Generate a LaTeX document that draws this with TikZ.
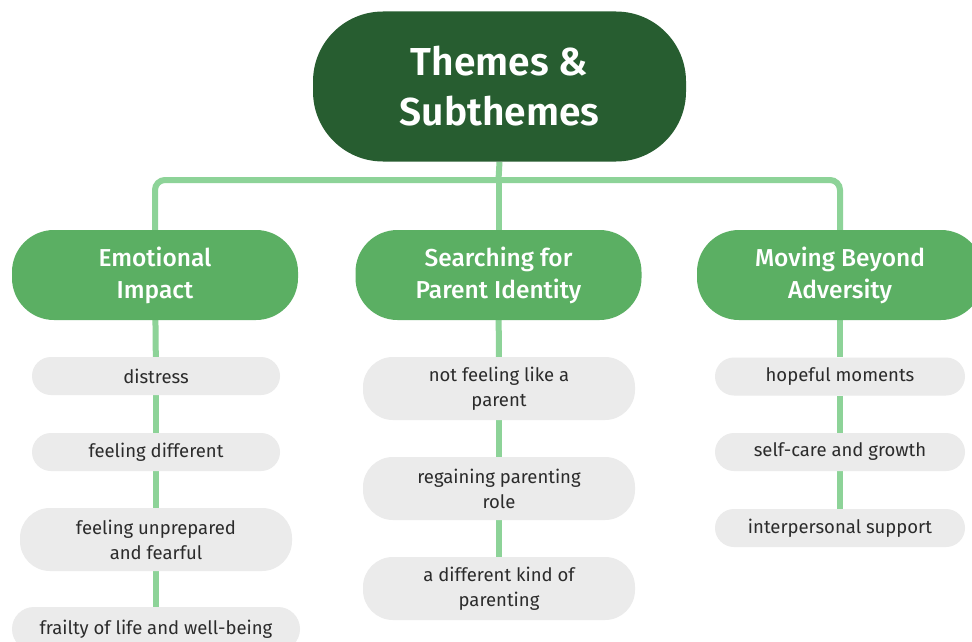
\documentclass[tikz,border=0pt]{standalone}
\usepackage{fontspec}
\setmainfont{Fira Sans}
\newfontfamily\titlefont{Fira Sans SemiBold}
\newfontfamily\themefont{Fira Sans Medium}
\usetikzlibrary{backgrounds}

\definecolor{rootgreen}{HTML}{275D30}
\definecolor{themegreen}{HTML}{5BAF63}
\definecolor{linkgreen}{HTML}{8DD398}
\definecolor{subgray}{HTML}{EBEBEB}
\definecolor{subtext}{HTML}{2B2B2B}

\tikzset{
  rootbox/.style={fill=rootgreen, text=white, rounded corners=70pt,
    minimum width=373pt, minimum height=150pt, align=center,
    font=\titlefont\fontsize{39}{50}\selectfont},
  themebox/.style={fill=themegreen, text=white, rounded corners=42pt,
    minimum width=286pt, minimum height=90pt, align=center,
    font=\themefont\fontsize{24.5}{32}\selectfont},
  subbox/.style={fill=subgray, text=subtext, rounded corners=19pt,
    minimum height=38pt, align=center, inner sep=0pt,
    font=\fontsize{18.5}{25}\selectfont},
  subtall/.style={subbox, rounded corners=30pt, minimum height=63pt},
  link/.style={draw=linkgreen, line width=6pt},
}

\begin{document}
\begin{tikzpicture}[x=1pt, y=-1pt]
  \useasboundingbox (0,0) rectangle (972,642);

  % root and the three themes
  \node[rootbox] (root) at (499.5,86.5) {Themes \&\\Subthemes};
  \node[themebox] (emo) at (155,275) {Emotional\\Impact};
  \node[themebox] (ident) at (498.5,275) {Searching for\\Parent Identity};
  \node[themebox] (adv) at (840,275) {Moving Beyond\\Adversity};

  % subthemes: emotional impact
  \node[subbox, minimum width=248pt] (e1) at (156,376) {distress};
  \node[subbox, minimum width=248pt] (e2) at (156,452) {feeling different};
  \node[subtall, minimum width=272pt] (e3) at (156,539.5) {feeling unprepared\\and fearful};
  \node[subbox, minimum width=288pt, minimum height=44pt, rounded corners=22pt] (e4) at (156,629) {frailty of life and well-being};

  % subthemes: searching for parent identity
  \node[subtall, minimum width=272pt] (i1) at (499,388.5) {not feeling like a\\parent};
  \node[subtall, minimum width=272pt] (i2) at (499,488.5) {regaining parenting\\role};
  \node[subtall, minimum width=272pt] (i3) at (499,588.5) {a different kind of\\parenting};

  % subthemes: moving beyond adversity
  \node[subbox, minimum width=250pt] (a1) at (840,376.5) {hopeful moments};
  \node[subbox, minimum width=250pt] (a2) at (840,452) {self-care and growth};
  \node[subbox, minimum width=250pt] (a3) at (840,528) {interpersonal support};

  \coordinate (bus) at (498.5,180);

  \begin{scope}[on background layer]
    \fill[white] (0,0) rectangle (972,642);

    \draw[link] (root.south) -- (bus);
    \draw[link, rounded corners=10pt] (bus) -| (emo.north);
    \draw[link, rounded corners=10pt] (bus) -| (adv.north);
    \draw[link] (bus) -- (ident.north);

    \draw[link] (emo) -- (e1);
    \draw[link] (e1) -- (e2);
    \draw[link] (e2) -- (e3);
    \draw[link] (e3) -- (e4);

    \draw[link] (ident) -- (i1);
    \draw[link] (i1) -- (i2);
    \draw[link] (i2) -- (i3);

    \draw[link] (adv) -- (a1);
    \draw[link] (a1) -- (a2);
    \draw[link] (a2) -- (a3);
  \end{scope}
\end{tikzpicture}
\end{document}
